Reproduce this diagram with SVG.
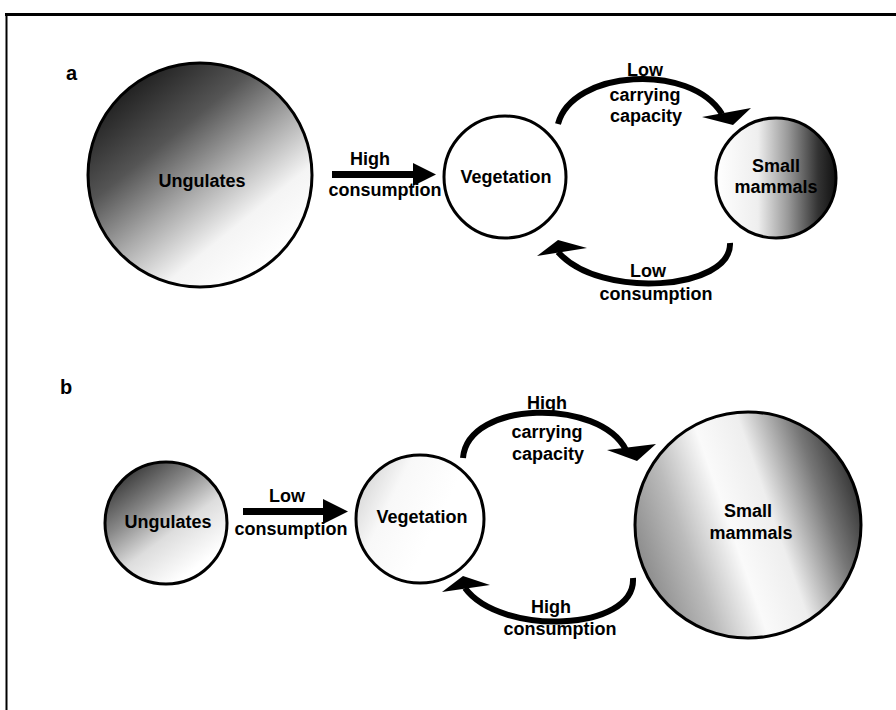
<svg xmlns="http://www.w3.org/2000/svg" width="896" height="710" viewBox="0 0 896 710">
<defs>
<style>
.t{font-family:"Liberation Sans",Arial,Helvetica,sans-serif;font-weight:bold;font-size:18px;fill:#000;text-anchor:middle}
.lab{font-family:"Liberation Sans",Arial,Helvetica,sans-serif;font-weight:bold;font-size:20px;fill:#000}
.node{stroke:#000;stroke-width:3}
.arc{fill:none;stroke:#000;stroke-width:6}
.head{fill:#000;stroke:none}
</style>
<linearGradient id="gUngA" x1="0.1" y1="0.15" x2="0.75" y2="0.95">
<stop offset="0" stop-color="#1e1e1e"/>
<stop offset="0.3" stop-color="#555"/>
<stop offset="0.55" stop-color="#aaa"/>
<stop offset="0.78" stop-color="#f4f4f4"/>
<stop offset="1" stop-color="#fff"/>
</linearGradient>
<linearGradient id="gSmallA" x1="0" y1="0.5" x2="1" y2="0.5">
<stop offset="0" stop-color="#fff"/>
<stop offset="0.35" stop-color="#eee"/>
<stop offset="0.6" stop-color="#999"/>
<stop offset="0.85" stop-color="#333"/>
<stop offset="1" stop-color="#111"/>
</linearGradient>
<linearGradient id="gUngB" x1="0.1" y1="0.1" x2="0.7" y2="0.9">
<stop offset="0" stop-color="#333"/>
<stop offset="0.35" stop-color="#888"/>
<stop offset="0.65" stop-color="#ddd"/>
<stop offset="1" stop-color="#fff"/>
</linearGradient>
<linearGradient id="gVegB" x1="0" y1="0.3" x2="0.6" y2="0.6">
<stop offset="0" stop-color="#d8d8d8"/>
<stop offset="0.4" stop-color="#f8f8f8"/>
<stop offset="1" stop-color="#fff"/>
</linearGradient>
<linearGradient id="gSmallB" x1="0" y1="0.65" x2="1" y2="0.3">
<stop offset="0" stop-color="#888"/>
<stop offset="0.22" stop-color="#bbb"/>
<stop offset="0.42" stop-color="#fafafa"/>
<stop offset="0.6" stop-color="#eee"/>
<stop offset="0.82" stop-color="#777"/>
<stop offset="1" stop-color="#2a2a2a"/>
</linearGradient>
</defs>
<rect width="896" height="710" fill="#fff"/>
<g id="frame">
<line x1="5" y1="14.5" x2="896" y2="14.5" stroke="#000" stroke-width="3"/>
<line x1="6.5" y1="13" x2="6.5" y2="710" stroke="#000" stroke-width="2"/>
</g>
<text class="lab" x="66" y="80">a</text>
<text class="lab" x="60" y="394">b</text>

<g id="a-ungulates">
<circle class="node" cx="200" cy="175" r="112" fill="url(#gUngA)"/>
<text class="t" x="202" y="187">Ungulates</text>
</g>
<g id="a-vegetation">
<circle class="node" cx="505" cy="177" r="61" fill="#fff"/>
<text class="t" x="506" y="183">Vegetation</text>
</g>
<g id="a-smallmammals">
<circle class="node" cx="776" cy="178" r="60" fill="url(#gSmallA)"/>
<text class="t" x="776" y="172">Small</text>
<text class="t" x="776" y="193">mammals</text>
</g>

<g id="b-ungulates">
<circle class="node" cx="166" cy="523" r="61" fill="url(#gUngB)"/>
<text class="t" x="168" y="528">Ungulates</text>
</g>
<g id="b-vegetation">
<circle class="node" cx="420" cy="519" r="64" fill="url(#gVegB)"/>
<text class="t" x="422" y="523">Vegetation</text>
</g>
<g id="b-smallmammals">
<circle class="node" cx="748" cy="525" r="113" fill="url(#gSmallB)"/>
<text class="t" x="748" y="517">Small</text>
<text class="t" x="751" y="539">mammals</text>
</g>

<g id="connectors">
<!-- panel a -->
<rect x="332" y="171" width="84" height="7" fill="#000"/>
<polygon class="head" points="413,163 436,174.5 413,186"/>
<text class="t" x="370" y="165">High</text>
<text class="t" x="385" y="196">consumption</text>

<path class="arc" d="M558,124 C572,70 690,62 722,114"/>
<polygon class="head" points="702,117 751,108 733,125"/>
<text class="t" x="645" y="76">Low</text>
<text class="t" x="645" y="101">carrying</text>
<text class="t" x="646" y="122">capacity</text>

<path class="arc" d="M730,243 C732,290 600,300 558,252"/>
<polygon class="head" points="537,256 558,240 587,248"/>
<text class="t" x="648" y="277">Low</text>
<text class="t" x="656" y="300">consumption</text>

<!-- panel b -->
<rect x="243" y="508" width="82" height="7" fill="#000"/>
<polygon class="head" points="323,499 348,511.5 323,524"/>
<text class="t" x="287" y="502">Low</text>
<text class="t" x="291" y="535">consumption</text>

<path class="arc" d="M463,458 C468,400 600,398 626,450"/>
<polygon class="head" points="607,450 656,444 637,461"/>
<text class="t" x="547" y="409">High</text>
<text class="t" x="547" y="438">carrying</text>
<text class="t" x="548" y="460">capacity</text>

<path class="arc" d="M633,578 C636,632 500,636 465,588"/>
<polygon class="head" points="442,592 463,576 490,585"/>
<text class="t" x="551" y="613">High</text>
<text class="t" x="560" y="635">consumption</text>
</g>
</svg>
